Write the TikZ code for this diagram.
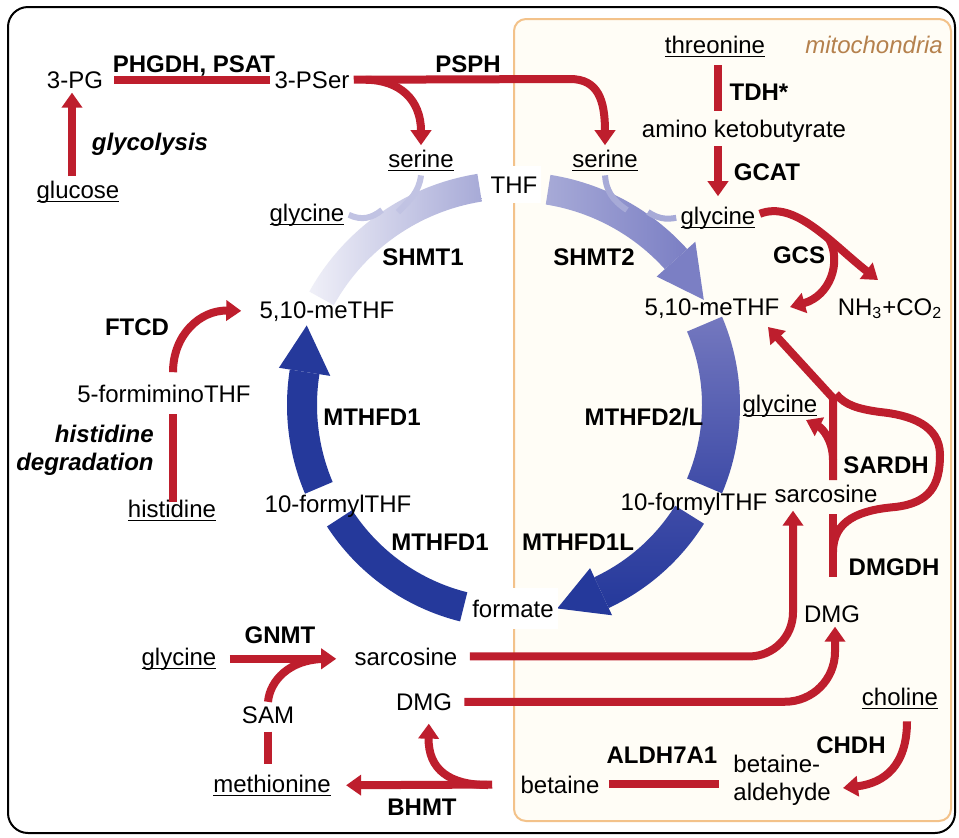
\documentclass[tikz,border=0pt]{standalone}
\usepackage{fontspec}
\setmainfont{Liberation Sans}
\usepackage{tikz}
\usetikzlibrary{arrows.meta, calc}
\definecolor{pathred}{HTML}{BE1E2D}
\definecolor{mitoline}{HTML}{F3C28A}
\definecolor{mitofill}{HTML}{FFFDF6}
\definecolor{mitotext}{HTML}{B5814D}
\definecolor{cycdark}{HTML}{25399B}
\definecolor{cycmid}{HTML}{3E4BA7}
\definecolor{cyclav}{HTML}{7478BF}
\definecolor{shmtdeep}{HTML}{7B7FC4}
\definecolor{shmtlav}{HTML}{A7AAD7}
\definecolor{shmtpale}{HTML}{F0F0F8}
\newcommand{\labfont}{\fontsize{12}{14}\selectfont}
\newcommand{\subst}[1]{\setbox0=\hbox{#1}\rlap{\rule[-2pt]{\wd0}{0.7pt}}\box0}
\tikzset{
  % metabolite name
  metab/.style={font=\labfont, inner sep=2pt, anchor=base},
  % enzyme name
  enzyme/.style={metab, font=\labfont\bfseries},
  % pathway name
  pathway/.style={metab, font=\labfont\bfseries\itshape},
  % red reaction arrow / plain red line
  redarrow/.style={draw=pathred, line width=4pt,
                   -{Triangle[width=10pt,length=7.5pt]}},
  redline/.style={draw=pathred, line width=4pt},
  % thin side branch of the SHMT arcs
  branch/.style={draw=#1, line width=3pt},
}
\begin{document}
\begin{tikzpicture}[x=0.5pt, y=-0.5pt]
  \useasboundingbox (0,0) rectangle (959,837);
  \draw[line width=1pt, rounded corners=10pt, fill=white] (8,7) rectangle (955,833);
  \draw[mitoline, line width=1pt, fill=mitofill, rounded corners=6pt]
    (514,19) rectangle (951,821);
  \node[metab, font=\labfont\itshape, text=mitotext] (mito) at (874,53) {mitochondria};

  % folate cycle
  \coordinate (C) at (514,405);
  \path[left color=shmtpale, right color=shmtlav]
    ($(C)+(209:234)$) arc[start angle=209, end angle=261, radius=234]
    -- ($(C)+(261:206)$) arc[start angle=261, end angle=209, radius=206] -- cycle;
  \path[left color=shmtlav, right color=shmtdeep]
    ($(C)+(-81:233)$) arc[start angle=-81, end angle=-42, radius=233]
    -- ($(C)+(-42:203)$) arc[start angle=-42, end angle=-81, radius=203] -- cycle;
  \fill[shmtdeep] ($(C)+(-42:244)$) -- ($(C)+(-42:192)$) -- ($(C)+(-29:217)$) -- cycle;
  \path[top color=cyclav, bottom color=cycmid]
    ($(C)+(-23:226)$) arc[start angle=-23, end angle=23, radius=226]
    -- ($(C)+(23:188)$) arc[start angle=23, end angle=-23, radius=188] -- cycle;
  \path[top color=cycmid, bottom color=cycdark]
    ($(C)+(32:224)$) arc[start angle=32, end angle=65, radius=224]
    -- ($(C)+(65:190)$) arc[start angle=65, end angle=32, radius=190] -- cycle;
  \fill[cycdark] ($(C)+(65:232)$) -- ($(C)+(65:180)$) -- ($(C)+(78:208)$) -- cycle;
  \fill[cycdark]
    ($(C)+(104:193)$) arc[start angle=104, end angle=147, radius=193]
    -- ($(C)+(147:223)$) arc[start angle=147, end angle=104, radius=223] -- cycle;
  \fill[cycdark]
    ($(C)+(157:197)$) arc[start angle=157, end angle=189, radius=197]
    -- ($(C)+(189:227)$) arc[start angle=189, end angle=157, radius=227] -- cycle;
  \fill[cycdark] ($(C)+(189:186)$) -- ($(C)+(189:238)$) -- ($(C)+(201:222)$) -- cycle;

  % cytosol
  \node[metab] (pg3) at (75,88) {3-PG};
  \node[enzyme] (phgdh) at (194,72) {PHGDH, PSAT};
  \node[metab] (pser3) at (312,88) {3-PSer};
  \node[enzyme] (psph) at (468,72) {PSPH};
  \node[pathway] (glyco) at (150,150) {glycolysis};
  \node[metab] (glucose) at (78,198) {\subst{glucose}};
  \node[metab] (serc) at (421,167) {\subst{serine}};
  \node[metab] (glyc) at (307,221) {\subst{glycine}};
  \node[metab, fill=white, inner ysep=5pt] (thf) at (514,193) {THF};
  \node[enzyme] (shmt1) at (423,265) {SHMT1};
  \node[metab] (mthfc) at (327,318) {5,10-meTHF};
  \node[enzyme] (ftcd) at (137,335) {FTCD};
  \node[metab] (fimthf) at (164,402) {5-formiminoTHF};
  \node[pathway, anchor=base east, align=right] (hisdeg) at (158,470) {histidine\\degradation};
  \node[metab] (his) at (172,517) {\subst{histidine}};
  \node[enzyme] (mthfd1a) at (372,425) {MTHFD1};
  \node[metab] (fthfc) at (338,512) {10-formylTHF};
  \node[enzyme] (mthfd1b) at (440,550) {MTHFD1};
  \node[metab, fill=white, inner ysep=6pt] (formate) at (513,617) {formate};
  \node[enzyme] (gnmt) at (280,643) {GNMT};
  \node[metab] (glyb) at (179,665) {\subst{glycine}};
  \node[metab] (sarc) at (406,665) {sarcosine};
  \node[metab] (dmgc) at (424,710) {DMG};
  \node[metab] (sam) at (268,723) {SAM};
  \node[metab] (met) at (272,792) {\subst{methionine}};
  \node[enzyme] (bhmt) at (422,815) {BHMT};

  % mitochondria
  \node[metab] (thr) at (715,53) {\subst{threonine}};
  \node[enzyme] (tdh) at (759,100) {TDH*};
  \node[metab] (akb) at (744,137) {amino ketobutyrate};
  \node[enzyme] (gcat) at (767,180) {GCAT};
  \node[metab] (serm) at (605,167) {\subst{serine}};
  \node[metab] (glym) at (718,224) {\subst{glycine}};
  \node[enzyme] (shmt2) at (594,265) {SHMT2};
  \node[enzyme] (gcs) at (799,263) {GCS};
  \node[metab] (mthfm) at (712,315) {5,10-meTHF};
  \node[metab] (nhco) at (890,315) {NH\textsubscript{3}+CO\textsubscript{2}};
  \node[enzyme] (mthfd2) at (644,425) {MTHFD2/L};
  \node[metab] (glym2) at (780,412) {\subst{glycine}};
  \node[enzyme] (sardh) at (886,473) {SARDH};
  \node[metab] (fthfm) at (694,510) {10-formylTHF};
  \node[metab] (sarm) at (826,502) {sarcosine};
  \node[enzyme] (mthfd1l) at (578,550) {MTHFD1L};
  \node[enzyme] (dmgdh) at (894,575) {DMGDH};
  \node[metab] (dmgm) at (832,622) {DMG};
  \node[metab] (choline) at (900,705) {\subst{choline}};
  \node[enzyme] (chdh) at (851,753) {CHDH};
  \node[enzyme] (aldh) at (662,763) {ALDH7A1};
  \node[metab, anchor=base west, align=left] (bald) at (729,800) {betaine-\\aldehyde};
  \node[metab] (betaine) at (560,793) {betaine};

  % SHMT side branches
  \draw[branch=shmtlav!70] (serc.south) .. controls (419,192) and (410,200) .. (398,212);
  \draw[branch=shmtlav!70] (glyc.east) .. controls (362,221) and (372,218) .. (382,210);
  \draw[branch=shmtlav] (serm.south) .. controls (606,190) and (612,200) .. (627,210);
  \draw[branch=shmtlav] (glym.west) .. controls (665,220) and (657,218) .. (648,212);

  % serine synthesis
  \draw[redarrow] ([xshift=-3pt]glucose.north) -- ([xshift=-1.5pt]pg3.south);
  \draw[redline, shorten <=3.5pt] (pg3) -- (pser3);
  \draw[redarrow] (pser3.east) -- (570,79) .. controls (598,79) and (605,100) .. (serm.north);
  \draw[redarrow] ([xshift=6pt]pser3.east) .. controls (400,80) and (421,100) .. (serc.north);

  % histidine
  \draw[redline, shorten <=-3.5pt, shorten >=3.5pt]
    ([xshift=0.5pt]his.north) -- ([xshift=4.5pt]fimthf.south);
  \draw[redarrow, shorten <=4pt, shorten >=7pt]
    ([xshift=4.5pt]fimthf.north) .. controls (173,335) and (200,310) .. (mthfc.west);

  % threonine and glycine cleavage
  \draw[redline, shorten <=2pt, shorten >=2pt]
    ([xshift=1.5pt]thr.south) -- ([xshift=1.5pt]thr.south |- akb.north);
  \draw[redarrow, shorten >=3pt] ([xshift=1.5pt]thr.south |- akb.south) -- (glym.north);
  \draw[redarrow] ([yshift=2pt]glym.east) .. controls (795,200) and (831,243) .. (878,280);
  \draw[redarrow] (829,239) .. controls (842,262) and (830,296) .. (790,307);

  % sarcosine and DMG
  \draw[redarrow] ([xshift=3.5pt]sarm.north) -- (833,398) -- (768,327);
  \draw[redarrow] (833,460) .. controls (833,440) and (822,428) .. (806,420);
  \draw[redline, shorten <=12pt, shorten >=3.5pt]
    ([xshift=0.5pt]dmgm.north) -- ([xshift=3.5pt]sarm.south);
  \draw[redline] (833,552) .. controls (833,520) and (860,510) .. (895,507)
    .. controls (930,503) and (940,485) .. (940,455)
    .. controls (940,425) and (910,415) .. (880,412)
    .. controls (858,409) and (845,405) .. (836,394);
  \draw[redarrow, rounded corners=22pt, shorten <=4pt, shorten >=2pt]
    (sarc.east) -| ([xshift=-16.5pt]sarm.south);
  \draw[redarrow, rounded corners=25pt, shorten <=4pt]
    (dmgc.east) -| ([xshift=1.5pt]dmgm.south);

  % glycine N-methylation
  \draw[redarrow, shorten <=4.5pt, shorten >=7pt] (glyb.east) -- (glyb.east -| sarc.west);
  \draw[redline] (sam.north) .. controls (270,680) and (290,660) .. (322,659);
  \draw[redline, shorten <=2pt, shorten >=3pt] (sam.south) -- (sam.south |- met.north);

  % choline oxidation
  \draw[redarrow, shorten <=4pt]
    ([xshift=3.5pt]choline.south) .. controls (907,765) and (885,783) .. (843,788);
  \draw[redline, shorten <=2.5pt, shorten >=5pt] (betaine.east) -- (bald.west |- betaine.east);
  \draw[redarrow, shorten <=12pt, shorten >=5.5pt] (betaine.west) -- (met.east);
  \draw[redarrow, shorten >=4.5pt]
    (488,785) .. controls (450,785) and (428,770) .. ([xshift=2.5pt]dmgc.south);
\end{tikzpicture}
\end{document}
